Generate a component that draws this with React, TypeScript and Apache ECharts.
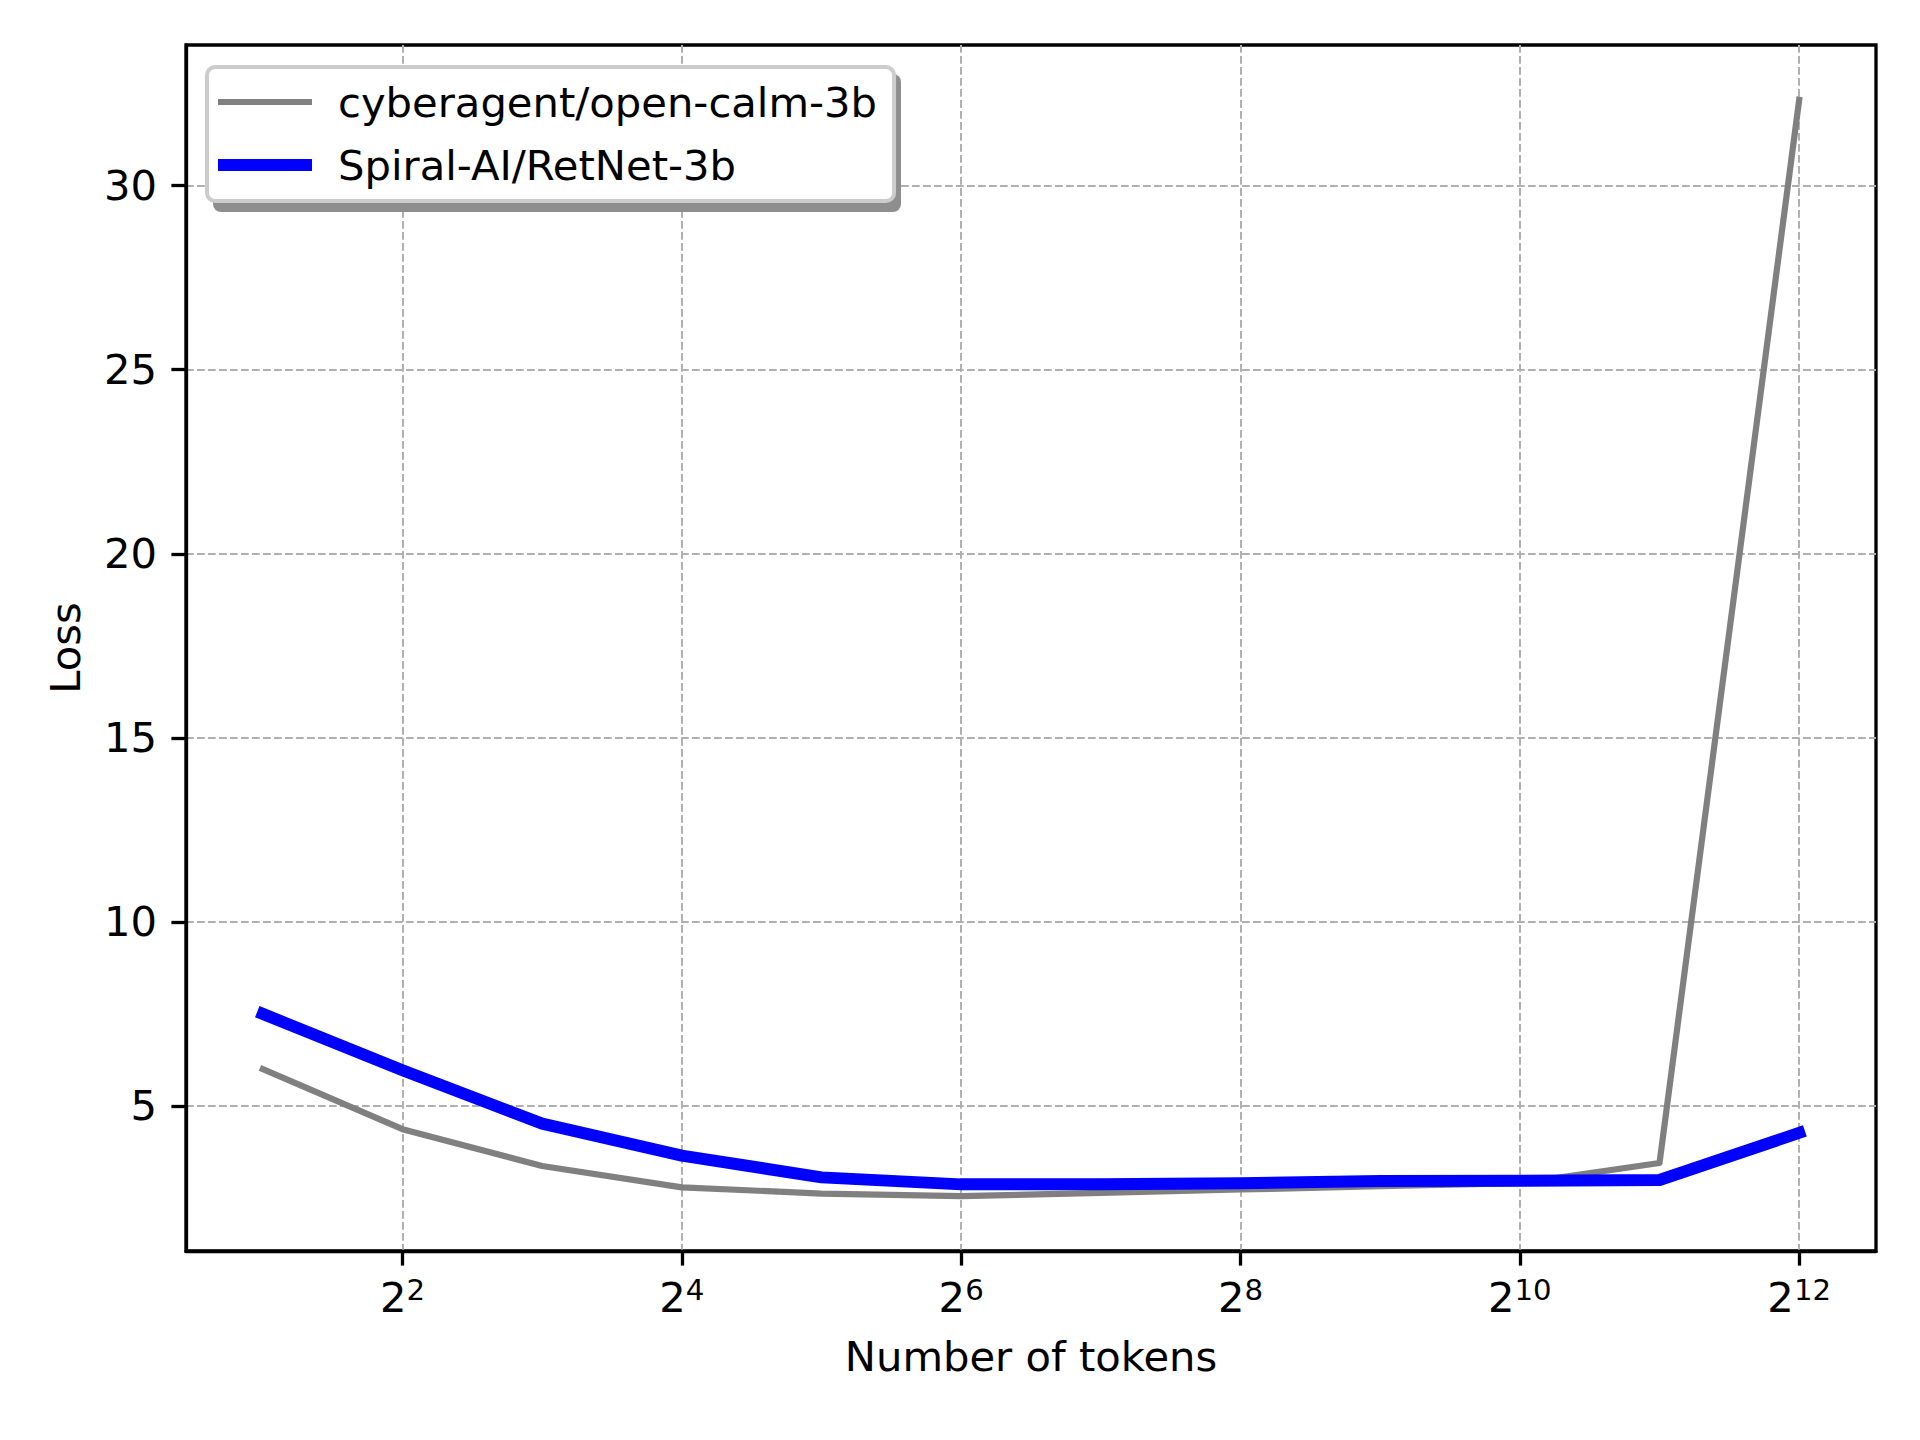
import React, { useEffect, useRef } from "react";
import * as echarts from "echarts";

// Data
const tokenExponents = [1, 2, 3, 4, 5, 6, 7, 8, 9, 10, 11, 12]; // number of tokens = 2^n
const openCalmLoss = [6.0, 4.37, 3.37, 2.79, 2.62, 2.55, 2.64, 2.73, 2.82, 2.9, 3.45, 32.33];
const retNetLoss = [7.5, 5.97, 4.52, 3.65, 3.06, 2.87, 2.87, 2.9, 2.96, 2.97, 2.99, 4.27];
const xTickExponents = [2, 4, 6, 8, 10, 12];
const yTickValues = [5, 10, 15, 20, 25, 30];
const seriesNames = ["cyberagent/open-calm-3b", "Spiral-AI/RetNet-3b"];
const seriesColors = ["#808080", "#0000ff"];
const seriesWidths = [6.2, 12];

const FONT = "DejaVu Sans";
const FS = 41.7;

export default function App() {
  const ref = useRef<HTMLDivElement>(null);

  useEffect(() => {
    document.body.style.margin = "0";
    const chart = echarts.init(ref.current!, null, { renderer: "svg" });

    const gridLine = {
      show: true,
      lineStyle: { color: "#b0b0b0", width: 2, type: [7.7, 3.3] },
    };

    const option: any = {
      animation: false,
      backgroundColor: "#ffffff",
      textStyle: { fontFamily: FONT },
      grid: {
        left: 186,
        right: 44,
        top: 45,
        bottom: 189,
        containLabel: false,
        outerBoundsMode: "none",
        show: true,
        borderColor: "#000000",
        borderWidth: 3.3,
        backgroundColor: "transparent",
      },
      legend: {
        orient: "vertical",
        left: 207,
        top: 67,
        backgroundColor: "#ffffff",
        borderColor: "#cccccc",
        borderWidth: 4,
        borderRadius: 8,
        padding: [11, 17, 12, 11],
        itemWidth: 94,
        itemHeight: 20,
        itemGap: 15,
        symbolKeepAspect: true,
        data: seriesNames.map((n, i) => ({
          name: n,
          icon: `path://M0,0H94V${seriesWidths[i]}H0Z`,
          itemStyle: { color: seriesColors[i] },
        })),
        textStyle: {
          fontFamily: FONT,
          fontSize: FS,
          color: "#000000",
          lineHeight: 48,
          padding: [0, 0, 0, 21],
        },
        z: 10,
      },
      graphic: [
        {
          type: "rect",
          left: 213,
          top: 74,
          shape: { width: 688, height: 138, r: 8 },
          style: { fill: "#8e8e8e" },
          z: 9,
        },
      ],
      xAxis: {
        type: "value",
        min: 0.45,
        max: 12.55,
        name: "Number of tokens",
        nameLocation: "middle",
        nameGap: 84,
        nameTextStyle: { fontFamily: FONT, fontSize: FS, color: "#000000" },
        axisLine: { show: true, lineStyle: { color: "#000000", width: 3.3 } },
        axisTick: {
          show: true,
          customValues: xTickExponents,
          length: 14.6,
          lineStyle: { color: "#000000", width: 3.3 },
        },
        axisLabel: {
          customValues: xTickExponents,
          margin: 24,
          formatter: (v: number) => `{m|2}{s|${v}}`,
          rich: {
            m: { fontFamily: FONT, fontSize: FS, color: "#000000", lineHeight: 44 },
            s: {
              fontFamily: FONT,
              fontSize: 29.2,
              color: "#000000",
              verticalAlign: "top",
              lineHeight: 20,
            },
          },
        },
        splitLine: gridLine,
      },
      yAxis: {
        type: "value",
        min: 1.06,
        max: 33.82,
        name: "Loss",
        nameLocation: "middle",
        nameRotate: 90,
        nameGap: 100,
        nameTextStyle: { fontFamily: FONT, fontSize: FS, color: "#000000" },
        axisLine: { show: true, lineStyle: { color: "#000000", width: 3.3 } },
        axisTick: {
          show: true,
          customValues: yTickValues,
          length: 14.6,
          lineStyle: { color: "#000000", width: 3.3 },
        },
        axisLabel: {
          customValues: yTickValues,
          margin: 29,
          fontFamily: FONT,
          fontSize: FS,
          color: "#000000",
          formatter: (v: number) => String(v),
        },
        splitLine: gridLine,
      },
      series: [
        {
          name: seriesNames[0],
          type: "line",
          data: tokenExponents.map((e, i) => [e, openCalmLoss[i]]),
          symbol: "none",
          color: seriesColors[0],
          lineStyle: { color: seriesColors[0], width: seriesWidths[0], cap: "square", join: "round" },
          z: 2,
        },
        {
          name: seriesNames[1],
          type: "line",
          data: tokenExponents.map((e, i) => [e, retNetLoss[i]]),
          symbol: "none",
          color: seriesColors[1],
          lineStyle: { color: seriesColors[1], width: seriesWidths[1], cap: "square", join: "round" },
          z: 3,
        },
      ],
    };

    chart.setOption(option);
    return () => chart.dispose();
  }, []);

  return (
    <div
      ref={ref}
      style={{ position: "absolute", left: 0, top: 0, width: 1920, height: 1440 }}
    />
  );
}
